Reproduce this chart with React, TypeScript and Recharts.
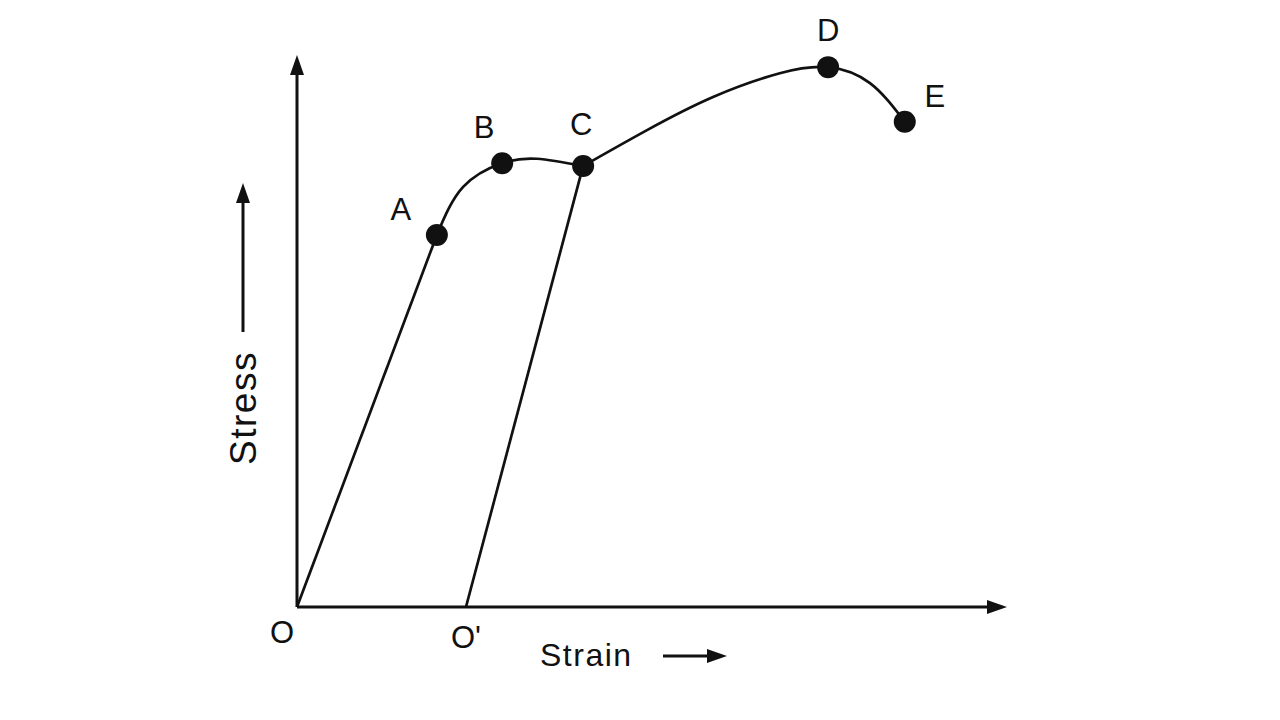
import { ComposedChart, Line, Scatter, XAxis, YAxis, ReferenceLine } from 'recharts'

// elastic part O -> A
const elasticStrain = [0, 19.7]
const elasticStress = [0, 67.4]

// yielding A -> B -> C
const yieldStrain = [19.7, 23.4, 28.9, 33.8, 40.3]
const yieldStress = [67.4, 76.1, 80.4, 81.2, 79.9]

// hardening and necking C -> D -> E
const hardenStrain = [40.3, 49.3, 58.6, 68.0, 74.8, 80.7, 85.6]
const hardenStress = [79.9, 86.4, 92.4, 96.7, 97.8, 94.9, 87.9]

// unloading C -> O'
const unloadStrain = [40.3, 23.8]
const unloadStress = [79.9, 0]

const pointNames = ['A', 'B', 'C', 'D', 'E']
const pointStrain = [19.7, 28.9, 40.3, 74.8, 85.6]
const pointStress = [67.4, 80.4, 79.9, 97.8, 87.9]

const originNames = ['O', "O'"]
const originStrain = [0, 23.8]
const originStress = [0, 0]

const toRows = (xs: number[], ys: number[], names?: string[]) =>
  xs.map((x, i) => ({ x, y: ys[i], name: names ? names[i] : '' }))

const INK = '#111'
const FONT = '"Liberation Sans", Arial, sans-serif'

const labelOffset: Record<string, [number, number]> = {
  A: [-36, -25],
  B: [-18, -36],
  C: [-2, -41],
  D: [0, -37],
  E: [30, -25],
  O: [-15, 25],
  "O'": [0, 30],
}

function PointShape(props: any) {
  const { cx, cy, payload } = props
  const [dx, dy] = labelOffset[payload.name] || [0, 0]
  return (
    <g>
      <circle cx={cx} cy={cy} r={11} fill={INK} />
      <text x={cx + dx} y={cy + dy} textAnchor="middle" dominantBaseline="central" fontSize={31} fontFamily={FONT} fill={INK}>
        {payload.name}
      </text>
    </g>
  )
}

function OriginShape(props: any) {
  const { cx, cy, payload } = props
  const [dx, dy] = labelOffset[payload.name] || [0, 0]
  return (
    <text x={cx + dx} y={cy + dy} textAnchor="middle" dominantBaseline="central" fontSize={31} fontFamily={FONT} fill={INK}>
      {payload.name}
    </text>
  )
}

function ArrowLine(props: any) {
  const { x1, y1, x2, y2 } = props
  const len = Math.hypot(x2 - x1, y2 - y1) || 1
  const ux = (x2 - x1) / len
  const uy = (y2 - y1) / len
  const hl = 20
  const hw = 7
  const bx = x2 - ux * hl
  const by = y2 - uy * hl
  return (
    <g>
      <line x1={x1} y1={y1} x2={bx + ux * 2} y2={by + uy * 2} stroke={INK} strokeWidth={3} />
      <polygon
        points={`${x2},${y2} ${bx - uy * hw},${by + ux * hw} ${bx + uy * hw},${by - ux * hw}`}
        fill={INK}
      />
    </g>
  )
}

function StrainLabel(props: any) {
  const { viewBox } = props
  const y = viewBox.y + 48
  const x = viewBox.x + 243
  return (
    <g>
      <text x={x} y={y} dominantBaseline="central" fontSize={32} fontFamily={FONT} fill={INK} letterSpacing={1.5}>
        Strain
      </text>
      <ArrowLine x1={x + 123} y1={y + 1} x2={x + 187} y2={y + 1} />
    </g>
  )
}

function StressLabel(props: any) {
  const { viewBox } = props
  const x = 243
  const cy = viewBox.y + 353
  return (
    <g>
      <text
        x={x}
        y={cy}
        textAnchor="middle"
        dominantBaseline="central"
        fontSize={37}
        fontFamily={FONT}
        fill={INK}
        letterSpacing={1.5}
        transform={`rotate(-90 ${x} ${cy})`}
      >
        Stress
      </text>
      <ArrowLine x1={x} y1={viewBox.y + 277} x2={x} y2={viewBox.y + 128} />
    </g>
  )
}

export default function App() {
  return (
    <div style={{ position: 'absolute', left: 0, top: 0, width: 1280, height: 720, background: '#fff' }}>
      <ComposedChart width={1280} height={720} margin={{ top: 55, right: 273, bottom: 0, left: 0 }}>
        <XAxis
          type="number"
          dataKey="x"
          domain={[0, 100]}
          tick={false}
          axisLine={false}
          tickLine={false}
          height={113}
          label={<StrainLabel />}
        />
        <YAxis
          type="number"
          dataKey="y"
          domain={[0, 100]}
          tick={false}
          axisLine={false}
          tickLine={false}
          width={297}
          label={<StressLabel />}
        />
        <ReferenceLine segment={[{ x: 0, y: 0 }, { x: 0, y: 100 }]} shape={<ArrowLine />} ifOverflow="visible" />
        <ReferenceLine segment={[{ x: 0, y: 0 }, { x: 100, y: 0 }]} shape={<ArrowLine />} ifOverflow="visible" />
        <Line data={toRows(elasticStrain, elasticStress)} dataKey="y" type="linear" stroke={INK} strokeWidth={2.7} dot={false} isAnimationActive={false} />
        <Line data={toRows(yieldStrain, yieldStress)} dataKey="y" type="natural" stroke={INK} strokeWidth={2.7} dot={false} isAnimationActive={false} />
        <Line data={toRows(hardenStrain, hardenStress)} dataKey="y" type="natural" stroke={INK} strokeWidth={2.7} dot={false} isAnimationActive={false} />
        <Line data={toRows(unloadStrain, unloadStress)} dataKey="y" type="linear" stroke={INK} strokeWidth={2.7} dot={false} isAnimationActive={false} />
        <Scatter data={toRows(pointStrain, pointStress, pointNames)} dataKey="y" shape={<PointShape />} isAnimationActive={false} />
        <Scatter data={toRows(originStrain, originStress, originNames)} dataKey="y" shape={<OriginShape />} isAnimationActive={false} />
      </ComposedChart>
    </div>
  )
}
